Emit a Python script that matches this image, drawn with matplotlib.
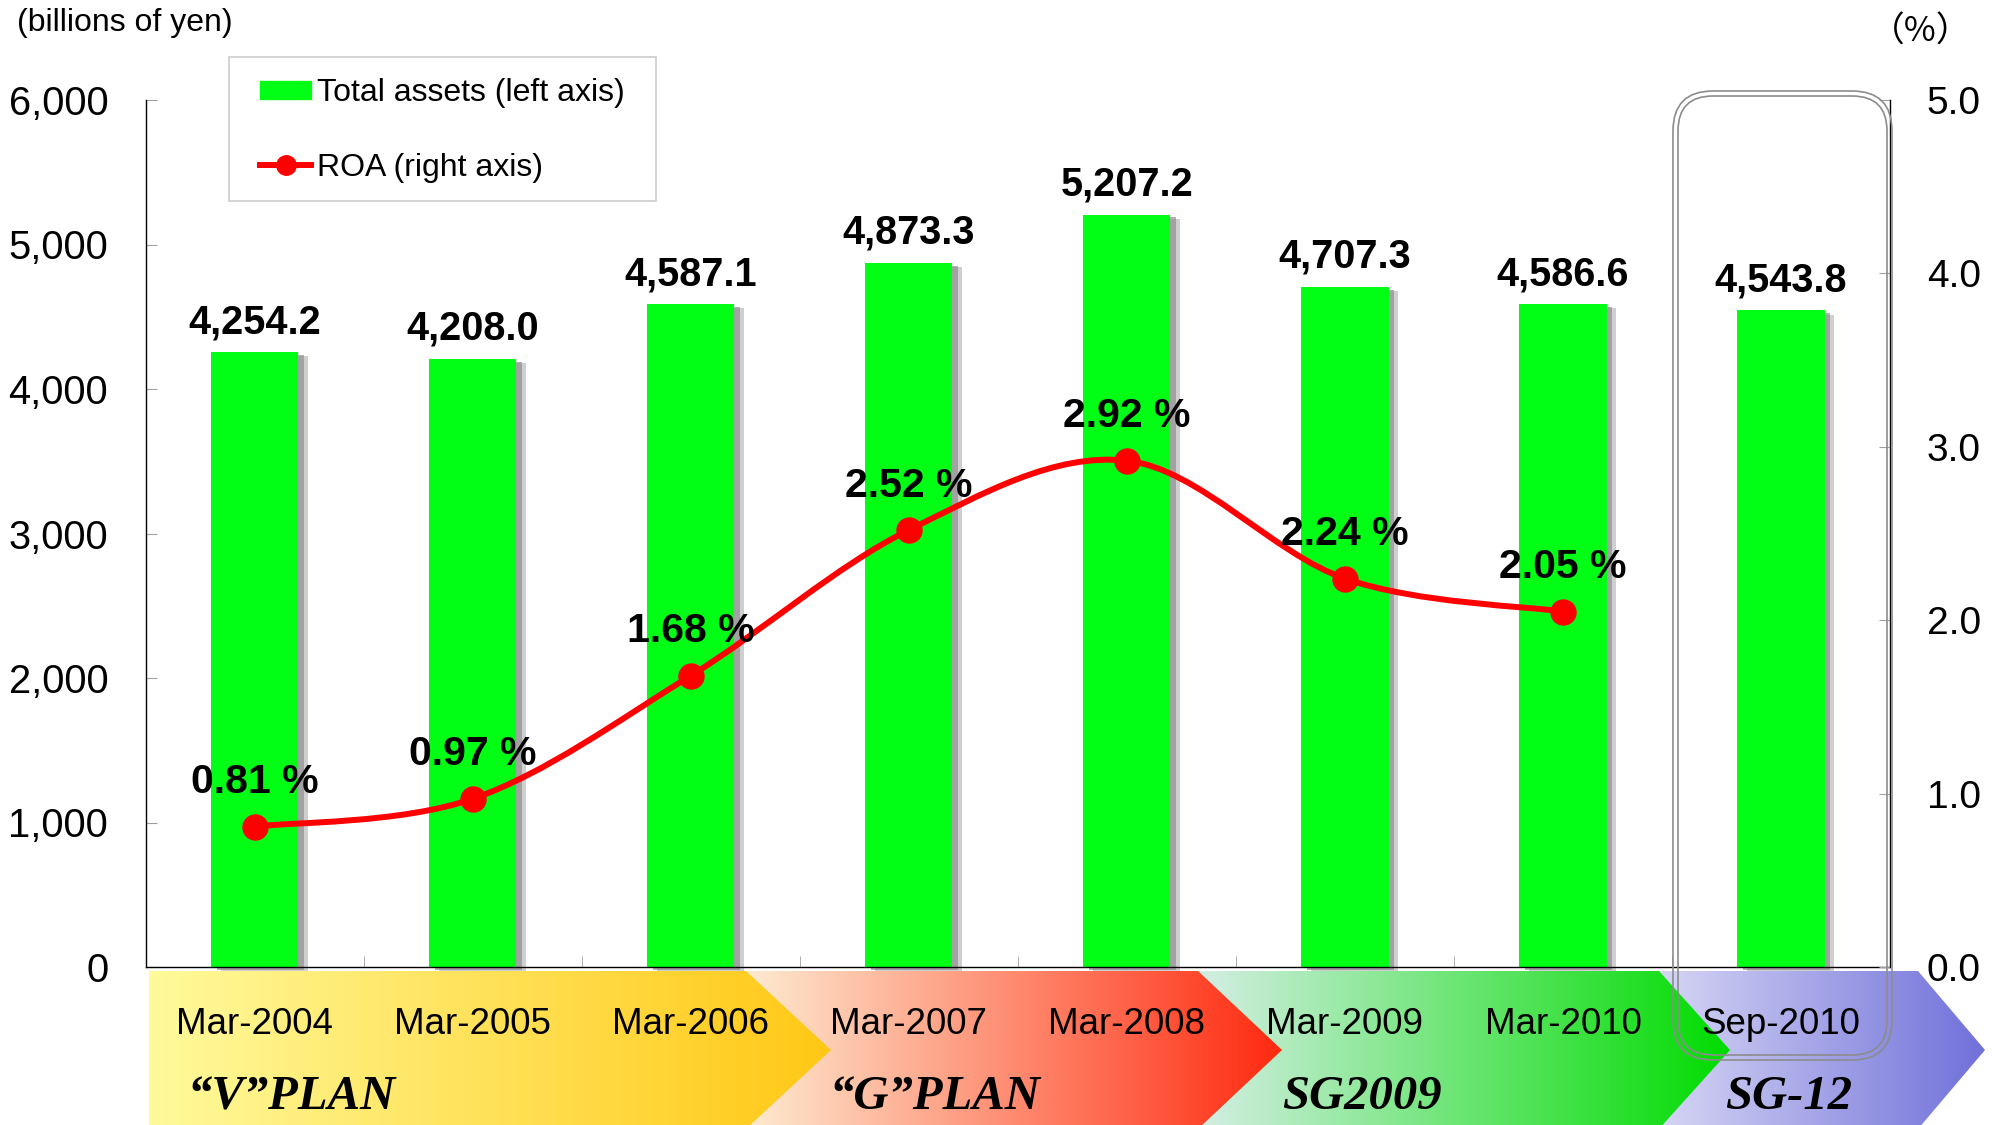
import matplotlib
matplotlib.use("Agg")
import matplotlib.pyplot as plt
import numpy as np
from matplotlib.path import Path
from matplotlib.patches import PathPatch, Polygon, FancyBboxPatch, Rectangle, Patch
from matplotlib.lines import Line2D
from matplotlib.colors import LinearSegmentedColormap
import matplotlib.patheffects as pe

# data
periods = ["Mar-2004", "Mar-2005", "Mar-2006", "Mar-2007",
           "Mar-2008", "Mar-2009", "Mar-2010", "Sep-2010"]
total_assets = [4254.2, 4208.0, 4587.1, 4873.3, 5207.2, 4707.3, 4586.6, 4543.8]
roa = [0.81, 0.97, 1.68, 2.52, 2.92, 2.24, 2.05]
plans = ["\u201cV\u201dPLAN", "\u201cG\u201dPLAN", "SG2009", "SG-12"]

plt.rcParams['font.family'] = ['Liberation Sans', 'DejaVu Sans']

W, H = 2004, 1125
fig = plt.figure(figsize=(W / 100, H / 100), dpi=100)

# background layer in pixel coords for the plan arrows
bg = fig.add_axes([0, 0, 1, 1], zorder=-1)
bg.axis('off')

band_left = [149, 746, 1198, 1659]
band_right = [746, 1198, 1659, 1918]
band_tip = [831, 1282, 1730, 1985]
band_colors = [("#FFFA9C", "#FFC814"), ("#FDEBD0", "#FF2A10"),
               ("#D4EEE4", "#00DC00"), ("#D6D6F5", "#7070DA")]
text_x = [291, 935, 1362, 1789]
y_top, y_mid, y_bot = 971, 1050, 1129

grad = np.linspace(0, 1, 256).reshape(1, -1)
for i in reversed(range(4)):
    l, r, t = band_left[i], band_right[i], band_tip[i]
    poly = Polygon([(l, y_top), (r, y_top), (t, y_mid), (r, y_bot), (l, y_bot)],
                   closed=True, fc='none', ec='none')
    bg.add_patch(poly)
    cmap = LinearSegmentedColormap.from_list("b%d" % i, band_colors[i])
    im = bg.imshow(grad, cmap=cmap, extent=(l, t, y_bot, y_top), aspect='auto',
                   interpolation='bilinear')
    im.set_clip_path(poly)
for i, name in enumerate(plans):
    bg.text(text_x[i], 1109, name, family='Liberation Serif', style='italic',
            weight='bold', fontsize=35, ha='center', va='baseline')
bg.set_xlim(0, W)
bg.set_ylim(H, 0)

# main chart
ax = fig.add_axes([145.7 / W, 1 - 967 / H, (1890 - 145.7) / W, (967 - 100) / H])
x = np.arange(len(periods))
shadow = [pe.SimplePatchShadow(offset=(7, -3), shadow_rgbFace='#b0b0b0', alpha=0.6),
          pe.SimplePatchShadow(offset=(4, -2), shadow_rgbFace='#909090', alpha=0.7),
          pe.Normal()]
bars = ax.bar(x, total_assets, width=0.4, color='#00FF14', zorder=2,
              clip_on=False, path_effects=shadow)
ax.bar_label(bars, labels=[f"{v:,.1f}" for v in total_assets], padding=8,
             fontsize=28.5, fontweight='bold')
ax.set_xlim(-0.5, 7.5)
ax.set_ylim(0, 6000)
ax.set_yticks(range(0, 6001, 1000))
ax.set_yticklabels([f"{v:,}" for v in range(0, 6001, 1000)])
ax.set_xticks(x)
ax.set_xticklabels(periods)
ax.set_xticks(np.arange(0.5, 7, 1), minor=True)
ax.tick_params(axis='x', which='major', length=0, labelsize=26.5, pad=29)
ax.tick_params(axis='x', which='minor', direction='in', length=8, color='#A0A0A0')
ax.tick_params(axis='y', direction='in', length=8, color='#A0A0A0',
               labelsize=28.7, pad=27)
for s in ['top', 'right']:
    ax.spines[s].set_visible(False)
for s in ['left', 'bottom']:
    ax.spines[s].set_linewidth(1.0)

# ROA on right axis, smoothed like the original line
ax2 = ax.twinx()
ax2.set_ylim(0, 5)
ax2.set_yticks(np.arange(0, 5.1, 1))
ax2.set_yticklabels([f"{v:.1f}" for v in np.arange(0, 5.1, 1)])
ax2.tick_params(axis='y', direction='in', length=8, color='#A0A0A0',
                labelsize=28, pad=26.6)
for s in ['top', 'left', 'bottom']:
    ax2.spines[s].set_visible(False)
ax2.spines['right'].set_linewidth(1.0)

pts = np.column_stack([np.arange(len(roa)), roa])
ext = np.vstack([pts[0], pts, pts[-1]])
verts = [pts[0]]
codes = [Path.MOVETO]
for i in range(len(pts) - 1):
    p0, p1, p2, p3 = ext[i], ext[i + 1], ext[i + 2], ext[i + 3]
    verts += [p1 + (p2 - p0) / 6, p2 - (p3 - p1) / 6, p2]
    codes += [Path.CURVE4] * 3
ax2.add_patch(PathPatch(Path(verts, codes), fc='none', ec='#FF0000', lw=4.3,
                        capstyle='round', zorder=3))
ax2.plot(pts[:, 0], pts[:, 1], 'o', color='#FF0000', ms=18, zorder=4)
for i, v in enumerate(roa):
    ax2.annotate(f"{v:.2f} %", (i, v), xytext=(0, 24), textcoords='offset points',
                 ha='center', va='baseline', fontsize=29.5, fontweight='bold')

# overlay: legend frame and rounded box around latest period
top = fig.add_axes([0, 0, 1, 1], zorder=5)
top.axis('off')
top.patch.set_alpha(0)
top.add_patch(Rectangle((229, 57), 427, 144, fc='none', ec='#C8C8C8', lw=1.1))
top.add_patch(FancyBboxPatch((1673, 91), 219, 969, boxstyle="round,pad=0,rounding_size=40",
                             fc='none', ec='#8C8C8C', lw=1.2))
top.add_patch(FancyBboxPatch((1678, 96), 209, 959, boxstyle="round,pad=0,rounding_size=35",
                             fc='none', ec='#8C8C8C', lw=1.2))
top.set_xlim(0, W)
top.set_ylim(H, 0)

handles = [Patch(color='#00FF14'),
           Line2D([], [], color='#FF0000', lw=4.3, marker='o', ms=14)]
fig.legend(handles, ["Total assets (left axis)", "ROA (right axis)"],
           loc='center', bbox_to_anchor=((229 + 656) / 2 / W, 1 - 130.5 / H),
           frameon=False, fontsize=23, handlelength=1.6, handleheight=0.5,
           handletextpad=0.19, labelspacing=1.38, borderpad=0)

fig.text(17 / W, 1 - 23 / H, "(billions of yen)", fontsize=23, ha='left', va='center')
fig.text(1921 / W, 1 - 32 / H, "\uff08%\uff09", fontsize=25, ha='center', va='center',
         family=['Noto Sans CJK JP', 'DejaVu Sans'])

fig.savefig("out.png", dpi=100)
